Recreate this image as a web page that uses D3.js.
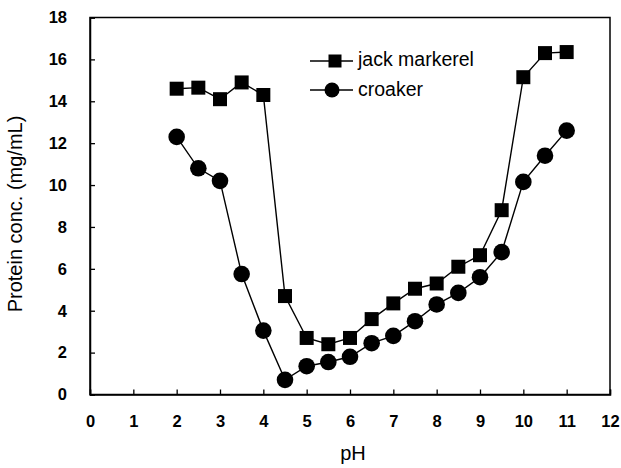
<!DOCTYPE html>
<html><head><meta charset="utf-8">
<script src="https://cdn.jsdelivr.net/npm/d3@7"></script>
<style>body{margin:0;background:#fff}svg{display:block}</style>
</head><body>
<svg id="c" width="621" height="468"></svg>
<script>
const pH = [2,2.5,3,3.5,4,4.5,5,5.5,6,6.5,7,7.5,8,8.5,9,9.5,10,10.5,11];
const jackMarkerel = [14.6,14.65,14.1,14.9,14.3,4.7,2.7,2.4,2.7,3.6,4.35,5.05,5.3,6.1,6.65,8.8,15.15,16.3,16.35];
const croaker = [12.3,10.8,10.2,5.75,3.05,0.7,1.35,1.55,1.8,2.45,2.8,3.5,4.3,4.85,5.6,6.8,10.15,11.4,12.6];
const xTicks = [0,1,2,3,4,5,6,7,8,9,10,11,12];
const yTicks = [0,2,4,6,8,10,12,14,16,18];
const seriesNames = ["jack markerel","croaker"];

const svg = d3.select("#c");
const L=90,R=610,T=17.5,B=394.5;
const x = d3.scaleLinear().domain([0,12]).range([L,R]);
const y = d3.scaleLinear().domain([0,18]).range([B,T]);
const font = "Liberation Sans, Arial, sans-serif";

// frame
svg.append("rect").attr("x",L).attr("y",T).attr("width",R-L).attr("height",B-T)
  .attr("fill","none").attr("stroke","#000").attr("stroke-width",1.5);

const xa = svg.append("g").attr("transform",`translate(0,${B})`)
  .call(d3.axisBottom(x).tickValues(xTicks).tickSize(-5).tickPadding(21).tickFormat(d3.format("d")));
const ya = svg.append("g").attr("transform",`translate(${L},0)`)
  .call(d3.axisLeft(y).tickValues(yTicks).tickSize(-5).tickPadding(23).tickFormat(d3.format("d")));
[xa,ya].forEach(a=>{
  a.select(".domain").attr("stroke","#000").attr("stroke-width",1.5);
  a.selectAll(".tick line").attr("stroke","#000").attr("stroke-width",1.3);
  a.selectAll(".tick text").attr("fill","#000").style("font-family",font).style("font-size","16.5px").style("font-weight","bold");
});

const line = d3.line().x((d,i)=>x(pH[i])).y(d=>y(d));
svg.append("path").datum(jackMarkerel).attr("d",line).attr("fill","none").attr("stroke","#000").attr("stroke-width",1.4);
svg.append("path").datum(croaker).attr("d",line).attr("fill","none").attr("stroke","#000").attr("stroke-width",1.4);

const S=14;
svg.selectAll(".sq").data(jackMarkerel).enter().append("rect")
  .attr("x",(d,i)=>x(pH[i])-S/2).attr("y",d=>y(d)-S/2).attr("width",S).attr("height",S).attr("fill","#000");
svg.selectAll(".ci").data(croaker).enter().append("circle")
  .attr("cx",(d,i)=>x(pH[i])).attr("cy",d=>y(d)).attr("r",8.3).attr("fill","#000");

// legend
const lg = svg.append("g");
lg.append("line").attr("x1",310).attr("x2",353).attr("y1",61).attr("y2",61).attr("stroke","#000").attr("stroke-width",1.4);
lg.append("rect").attr("x",335-6.5).attr("y",61-6.5).attr("width",13).attr("height",13).attr("fill","#000");
lg.append("line").attr("x1",310).attr("x2",353).attr("y1",90).attr("y2",90).attr("stroke","#000").attr("stroke-width",1.4);
lg.append("circle").attr("cx",332).attr("cy",90).attr("r",7.5).attr("fill","#000");
lg.selectAll("text").data(seriesNames).enter().append("text")
  .attr("x",358).attr("y",(d,i)=>i?95.5:66).text(d=>d)
  .style("font-family",font).style("font-size","19.5px").attr("fill","#000");

svg.append("text").attr("x",(L+R)/2+3).attr("y",460).attr("text-anchor","middle")
  .style("font-family",font).style("font-size","20px").text("pH");
svg.append("text").attr("transform","translate(22,214) rotate(-90)").attr("text-anchor","middle")
  .style("font-family",font).style("font-size","20px").text("Protein conc. (mg/mL)");
</script>
</body></html>
